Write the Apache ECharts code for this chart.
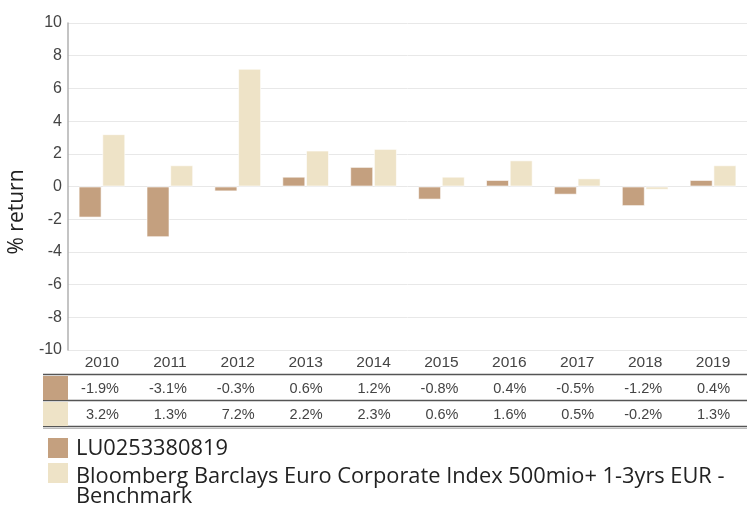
<!DOCTYPE html>
<html>
<head>
<meta charset="utf-8">
<script src="https://cdn.jsdelivr.net/npm/echarts@6/dist/echarts.min.js"></script>
<style>
  html, body { margin: 0; padding: 0; background: #fff; }
  #chart { width: 747px; height: 505px; }
</style>
</head>
<body>
<div id="chart"></div>
<script>
const years = ["2010", "2011", "2012", "2013", "2014", "2015", "2016", "2017", "2018", "2019"];
const fundName = "LU0253380819";
const benchName = "Bloomberg Barclays Euro Corporate Index 500mio+ 1-3yrs EUR - Benchmark";
const fundValues = [-1.9, -3.1, -0.3, 0.6, 1.2, -0.8, 0.4, -0.5, -1.2, 0.4];
const benchValues = [3.2, 1.3, 7.2, 2.2, 2.3, 0.6, 1.6, 0.5, -0.2, 1.3];
const colors = ["#c4a07f", "#eee3c7"];

const chart = echarts.init(document.getElementById("chart"));

const option = {
  animation: false,
  color: colors,
  textStyle: { fontFamily: "Liberation Sans" },
  grid: { left: 68, right: 0, top: 23, bottom: 155 },
  xAxis: {
    type: "category",
    data: years,
    axisLine: { show: false },
    axisTick: { show: false },
    axisLabel: { color: "#444", fontSize: 15.5, margin: 5 }
  },
  yAxis: {
    type: "value",
    min: -10,
    max: 10,
    interval: 2,
    axisLine: { show: true, lineStyle: { color: "#b0b0b0", width: 1.5 } },
    axisTick: { show: false },
    axisLabel: { color: "#444", fontSize: 16, margin: 6 },
    splitLine: { lineStyle: { color: "#e8e8e8" } }
  },
  series: [
    {
      name: fundName,
      type: "bar",
      data: fundValues,
      barWidth: 23,
      barGap: "3%",
      itemStyle: { borderColor: "rgba(255,255,255,0.6)", borderWidth: 1 }
    },
    {
      name: benchName,
      type: "bar",
      data: benchValues,
      barWidth: 23,
      itemStyle: { borderColor: "rgba(255,255,255,0.6)", borderWidth: 1 }
    }
  ]
};
chart.setOption(option);

// data table + legend below the plot
const g = [];
const tableLeft = 43, tableRight = 747;
const rowTops = [375, 401];
const rowH = 26;
const rows = [fundValues, benchValues];

g.push({ type: "text", rotation: Math.PI / 2, x: 17, y: 212,
  style: { text: "% return", fontSize: 21, fontFamily: "Open Sans", fill: "#222", align: "center", verticalAlign: "middle" } });

[374.5, 400.5, 426.5].forEach(function (y) {
  g.push({ type: "line", shape: { x1: tableLeft, y1: y, x2: tableRight, y2: y },
    style: { stroke: "#555", lineWidth: 1.5 } });
});
g.push({ type: "line", shape: { x1: tableLeft, y1: 428.5, x2: tableRight, y2: 428.5 },
  style: { stroke: "#bbb", lineWidth: 1 } });

rows.forEach(function (vals, r) {
  g.push({ type: "rect", shape: { x: tableLeft, y: rowTops[r] + 1, width: 25, height: rowH - 2 },
    style: { fill: colors[r] } });
  vals.forEach(function (v, i) {
    const cx = chart.convertToPixel({ xAxisIndex: 0 }, years[i]);
    g.push({ type: "text", x: cx + 17, y: rowTops[r] + rowH / 2 + 1,
      style: { text: v.toFixed(1) + "%", fontSize: 14.5, fontFamily: "Liberation Sans", fill: "#444",
        align: "right", verticalAlign: "middle" } });
  });
});

// legend
const legendTops = [438, 463];
const legendTextY = [439, 467];
[fundName, benchName].forEach(function (name, i) {
  g.push({ type: "rect", shape: { x: 48, y: legendTops[i], width: 20, height: 20 }, style: { fill: colors[i] } });
  g.push({ type: "text", x: 76, y: legendTextY[i],
    style: { text: name, width: 665, overflow: "break", fontSize: 21.8, lineHeight: 20,
      fontFamily: "Open Sans", fill: "#222", align: "left", verticalAlign: "top" } });
});

chart.setOption({ graphic: g });

window.addEventListener("resize", function () {
  chart.resize();
});
</script>
</body>
</html>
